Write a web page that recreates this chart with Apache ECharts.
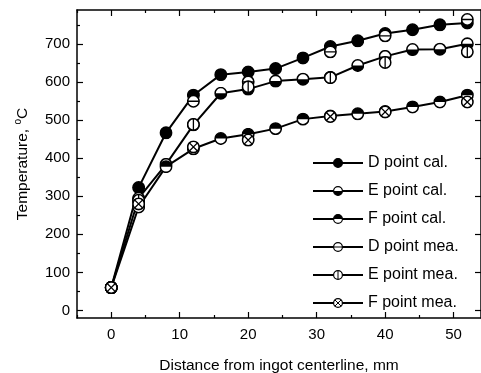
<!DOCTYPE html>
<html><head><meta charset="utf-8">
<script src="https://cdn.jsdelivr.net/npm/echarts@6/dist/echarts.min.js"></script>
<style>html,body{margin:0;padding:0;background:#fff}#c{width:481px;height:373px}</style>
</head><body><div id="c"></div>
<script>
// ---- data ----
const xCal = [0, 4, 8, 12, 16, 20, 24, 28, 32, 36, 40, 44, 48, 52];
const dCal = [60, 323, 467, 566, 620, 627, 636, 664, 694, 709, 728, 738, 751, 756];
const eCal = [60, 295, 384, 488, 571, 582, 603, 608, 613, 644, 668, 686, 687, 701];
const fCal = [60, 272, 378, 425, 452, 463, 478, 503, 511, 517, 523, 535, 548, 566];
const xMea = [0, 4, 12, 20, 32, 40, 52];
const dMea = [60, 285, 550, 601, 680, 722, 765];
const eMea = [60, 290, 489, 588, 612, 652, 680];
const fMea = [60, 280, 430, 448, 510, 522, 548];
const seriesNames = ['D point cal.', 'E point cal.', 'F point cal.', 'D point mea.', 'E point mea.', 'F point mea.'];
const xMajor = [0, 10, 20, 30, 40, 50];
const xMinor = [-5, 5, 15, 25, 35, 45];
const yMajor = [0, 100, 200, 300, 400, 500, 600, 700];
const yMinor = [50, 150, 250, 350, 450, 550, 650, 750];
const xTitle = 'Distance from ingot centerline, mm';

// ---- symbols ----
const C = 'cx="13" cy="13" r="11"';
const ring = `<circle ${C} fill="none" stroke="#000" stroke-width="3"/>`;
const bodies = {
  filled: `<circle ${C} fill="#000"/>`,
  halfDown: `<circle ${C} fill="#fff"/><path d="M2 13 A11 11 0 0 0 24 13 Z" fill="#000"/>`,
  halfUp: `<circle ${C} fill="#fff"/><path d="M2 13 A11 11 0 0 1 24 13 Z" fill="#000"/>`,
  hline: `<circle ${C} fill="#fff"/><path d="M2 13 H24" stroke="#000" stroke-width="2.5"/>`,
  vline: `<circle ${C} fill="#fff"/><path d="M13 2 V24" stroke="#000" stroke-width="2.5"/>`,
  cross: `<circle ${C} fill="#fff"/><path d="M5.2 5.2 L20.8 20.8 M20.8 5.2 L5.2 20.8" stroke="#000" stroke-width="2.5"/>`
};
function sym(k) {
  const svg = `<svg xmlns="http://www.w3.org/2000/svg" width="26" height="26" viewBox="0 0 26 26">${bodies[k]}${ring}</svg>`;
  return 'image://data:image/svg+xml;charset=utf-8,' + encodeURIComponent(svg);
}
const pairs = (xs, ys) => xs.map((x, i) => [x, ys[i]]);

const FONT = 'Arial, "Liberation Sans", sans-serif';
const XMIN = -5, XMAX = 54, YMIN = -20, YMAX = 790;

function mkSeries(name, xs, ys, k, showLine) {
  return {
    name, type: 'line', data: pairs(xs, ys),
    symbol: sym(k), symbolSize: 13.5, showSymbol: true,
    lineStyle: { color: '#000', width: 2, opacity: showLine ? 1 : 0 },
    itemStyle: { color: '#000' },
    animation: false, z: showLine ? 2 : 3
  };
}

const tickStyle = { color: '#000', width: 1.2 };
const baseAxisX = (extra) => Object.assign({
  type: 'value', min: XMIN, max: XMAX, gridIndex: 0,
  splitLine: { show: false },
  axisLine: { show: true, onZero: false, lineStyle: { color: '#000', width: 1.5 } },
  axisTick: { show: true, inside: true, length: 6, lineStyle: tickStyle, customValues: xMajor },
  axisLabel: { show: false }
}, extra);
const baseAxisY = (extra) => Object.assign({
  type: 'value', min: YMIN, max: YMAX, gridIndex: 0,
  splitLine: { show: false },
  axisLine: { show: true, onZero: false, lineStyle: { color: '#000', width: 1.5 } },
  axisTick: { show: true, inside: true, length: 6, lineStyle: tickStyle, customValues: yMajor },
  axisLabel: { show: false }
}, extra);
const hiddenLine = { show: false, onZero: false };

const option = {
  backgroundColor: '#fff',
  animation: false,
  textStyle: { fontFamily: FONT },
  grid: { left: 77, top: 10, width: 404, height: 308, containLabel: false, outerBoundsMode: 'none' },
  legend: {
    orient: 'vertical', left: 312, top: 155, padding: 0,
    itemWidth: 50, itemHeight: 13, itemGap: 12,
    textStyle: { fontSize: 16, color: '#000', fontFamily: FONT },
    data: seriesNames.map((n, i) => i < 3 ? { name: n } : { name: n, lineStyle: { opacity: 1, width: 2, color: '#000' } })
  },
  xAxis: [
    baseAxisX({
      position: 'bottom',
      name: xTitle, nameLocation: 'middle', nameGap: 40,
      nameTextStyle: { fontSize: 15.5, color: '#000', fontFamily: FONT },
      axisLabel: { show: true, customValues: xMajor, fontSize: 15, color: '#000', margin: 9, fontFamily: FONT }
    }),
    baseAxisX({ position: 'bottom', axisLine: hiddenLine, axisTick: { show: true, inside: true, length: 3, lineStyle: tickStyle, customValues: xMinor } }),
    baseAxisX({ position: 'top' }),
    baseAxisX({ position: 'top', axisLine: hiddenLine, axisTick: { show: true, inside: true, length: 3, lineStyle: tickStyle, customValues: xMinor } })
  ],
  yAxis: [
    baseAxisY({
      position: 'left',
      name: '{a|Temperature, }{s|o}{a|C}', nameLocation: 'middle', nameGap: 44,
      nameTextStyle: {
        fontSize: 15.5, color: '#000', fontFamily: FONT,
        rich: {
          a: { fontSize: 15.5, color: '#000', fontFamily: FONT, lineHeight: 20 },
          s: { fontSize: 10, color: '#000', fontFamily: FONT, lineHeight: 10, verticalAlign: 'top' }
        }
      },
      axisLabel: { show: true, customValues: yMajor, fontSize: 15, color: '#000', margin: 7, fontFamily: FONT }
    }),
    baseAxisY({ position: 'left', axisLine: hiddenLine, axisTick: { show: true, inside: true, length: 3, lineStyle: tickStyle, customValues: yMinor } }),
    baseAxisY({ position: 'right' })
  ],
  series: [
    mkSeries(seriesNames[0], xCal, dCal, 'filled', true),
    mkSeries(seriesNames[1], xCal, eCal, 'halfDown', true),
    mkSeries(seriesNames[2], xCal, fCal, 'halfUp', true),
    mkSeries(seriesNames[3], xMea, dMea, 'hline', false),
    mkSeries(seriesNames[4], xMea, eMea, 'vline', false),
    mkSeries(seriesNames[5], xMea, fMea, 'cross', false)
  ]
};
const chart = echarts.init(document.getElementById('c'), null, { renderer: 'canvas' });
chart.setOption(option);
</script>
</body></html>
